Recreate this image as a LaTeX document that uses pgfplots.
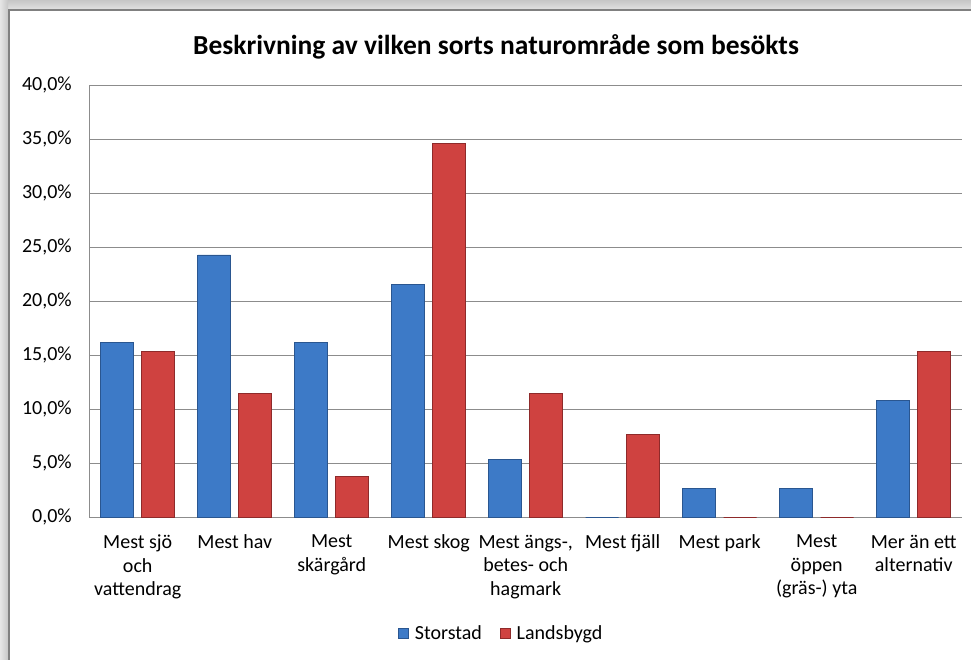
\documentclass[border=0pt]{standalone}
\usepackage{pgfplots}
\pgfplotsset{compat=1.18}
\usepackage{fontspec}
\setmainfont{Carlito}
\definecolor{bfill}{HTML}{3D7AC7}
\definecolor{bline}{HTML}{2A5690}
\definecolor{rfill}{HTML}{CF4240}
\definecolor{rline}{HTML}{8E2A2A}
\definecolor{gridc}{HTML}{8C8C8C}
\begin{document}
\begin{tikzpicture}[x=1pt,y=1pt]
\path[use as bounding box] (0,0) rectangle (971,660);
\fill[white] (0,0) rectangle (971,660);
% frame shadow
\shade[top color=gray!45, bottom color=gray!20] (0,649) rectangle (971,660);
\shade[left color=gray!20, right color=gray!45] (0,0) rectangle (8,660);
\fill[white] (10,0) rectangle (971,649);
\draw[gray, line width=2pt] (9,0) -- (9,650) -- (971,650);
\node[font=\fontsize{27.5}{32}\selectfont\bfseries, text=black, anchor=base] at (496,605) {Beskrivning av vilken sorts naturområde som besökts};
\begin{axis}[
  at={(92,132)}, anchor=south west,
  scale only axis, width=873, height=432,
  ymin=0, ymax=40, ytick={0,5,...,40},
  xmin=-0.5, xmax=8.5,
  xtick={0,...,8},
  xticklabels={{Mest sjö\\och\\vattendrag},{Mest hav},{Mest\\skärgård},{Mest skog},{Mest ängs-,\\betes- och\\hagmark},{Mest fjäll},{Mest park},{Mest\\öppen\\(gräs-) yta},{Mer än ett\\alternativ}},
  xticklabel style={align=center, font=\fontsize{20}{23.5}\selectfont, anchor=north, yshift=-14pt},
  yticklabel style={font=\fontsize{20}{24}\selectfont, xshift=-14pt},
  /pgf/number format/assume math mode=true,
  yticklabel={\pgfmathprintnumber[fixed,fixed zerofill,precision=1,use comma]{\tick}\%},
  major tick length=0pt,
  axis x line=bottom, axis y line=left,
  axis line style={gridc, -},
  ymajorgrids, grid style={gridc, line width=0.8pt},
  ybar, bar width=33pt,
  legend style={at={(0.472,-0.2685)}, anchor=center, draw=none, fill=none, legend columns=2, font=\fontsize{20}{24}\selectfont, column sep=4pt, /tikz/every even column/.append style={column sep=16pt}},
  legend image code/.code={\draw[#1] (0pt,-5pt) rectangle (10pt,5pt);},
]
\addplot[bar shift=-20.5pt, draw=bline, fill=bfill, line width=0.8pt] coordinates {(0,16.2) (1,24.3) (2,16.2) (3,21.6) (4,5.4) (5,0) (6,2.7) (7,2.7) (8,10.8)};
\addplot[bar shift=20.5pt, draw=rline, fill=rfill, line width=0.8pt] coordinates {(0,15.4) (1,11.5) (2,3.8) (3,34.6) (4,11.5) (5,7.7) (6,0) (7,0) (8,15.4)};
\legend{Storstad, Landsbygd}
\end{axis}
\end{tikzpicture}
\end{document}
